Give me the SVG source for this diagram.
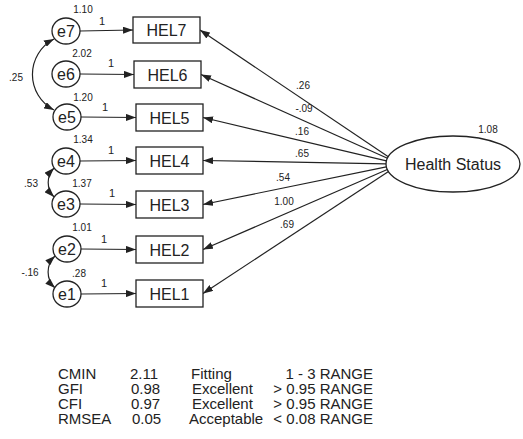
<svg xmlns="http://www.w3.org/2000/svg" width="523" height="439" viewBox="0 0 523 439">
<style>
text{font-family:"Liberation Sans",Arial,sans-serif;fill:#222}
.box{fill:#fff;stroke:#222;stroke-width:1.3}
.lbl{font-size:16px;text-anchor:middle}
.sm{font-size:10px;text-anchor:middle}
.one{font-size:11px;text-anchor:middle}
.tb{font-size:15px}
.ln{fill:none;stroke:#222;stroke-width:1.2}
</style>
<defs>
<marker id="ah" markerUnits="userSpaceOnUse" markerWidth="10" markerHeight="7" refX="10" refY="3.5" orient="auto-start-reverse">
<path d="M0,0 L10,3.5 L0,7 z" fill="#222"/>
</marker>
</defs>
<rect width="523" height="439" fill="#fff"/>
<g id="connectors">
<line class="ln" x1="80" y1="31" x2="133" y2="30" marker-end="url(#ah)"/>
<line class="ln" x1="80" y1="74" x2="134" y2="74.5" marker-end="url(#ah)"/>
<line class="ln" x1="81" y1="117" x2="136" y2="117.5" marker-end="url(#ah)"/>
<line class="ln" x1="80" y1="161" x2="136" y2="160.5" marker-end="url(#ah)"/>
<line class="ln" x1="80" y1="204" x2="136" y2="204.5" marker-end="url(#ah)"/>
<line class="ln" x1="81" y1="249" x2="136" y2="249.5" marker-end="url(#ah)"/>
<line class="ln" x1="81" y1="294" x2="136" y2="293.5" marker-end="url(#ah)"/>
<line class="ln" x1="388.3" y1="156.8" x2="200" y2="30" marker-end="url(#ah)"/>
<line class="ln" x1="387.4" y1="158.3" x2="201" y2="74.5" marker-end="url(#ah)"/>
<line class="ln" x1="386.4" y1="160.8" x2="203" y2="117.5" marker-end="url(#ah)"/>
<line class="ln" x1="386" y1="163.8" x2="203" y2="160.5" marker-end="url(#ah)"/>
<line class="ln" x1="386.3" y1="166.8" x2="203" y2="204.5" marker-end="url(#ah)"/>
<line class="ln" x1="387.3" y1="169.5" x2="203" y2="249.5" marker-end="url(#ah)"/>
<line class="ln" x1="388.5" y1="171.5" x2="203" y2="293.5" marker-end="url(#ah)"/>
<path class="ln" d="M54,39 A40,40 0 0 0 54,110" marker-start="url(#ah)" marker-end="url(#ah)"/>
<path class="ln" d="M54,168 A21,21 0 0 0 54,197" marker-start="url(#ah)" marker-end="url(#ah)"/>
<path class="ln" d="M55,256 A22,22 0 0 0 55,288" marker-start="url(#ah)" marker-end="url(#ah)"/>
<text class="sm" x="16" y="80.5">.25</text>
<text class="sm" x="31" y="186.5">.53</text>
<text class="sm" x="30" y="275.5">-.16</text>
<text class="one" x="102" y="25">1</text>
<text class="one" x="111" y="67">1</text>
<text class="one" x="105" y="111">1</text>
<text class="one" x="111" y="154">1</text>
<text class="one" x="112" y="197">1</text>
<text class="one" x="104" y="243">1</text>
<text class="one" x="104" y="287">1</text>
<text class="sm" x="303" y="88.5">.26</text>
<text class="sm" x="304" y="111.5">-.09</text>
<text class="sm" x="302" y="134.5">.16</text>
<text class="sm" x="302" y="156.5">.65</text>
<text class="sm" x="283" y="180.5">.54</text>
<text class="sm" x="284" y="204.5">1.00</text>
<text class="sm" x="287" y="227.5">.69</text>
</g>
<g id="e7"><ellipse class="box" cx="66" cy="31" rx="14" ry="13"/><text class="lbl" x="66" y="37">e7</text><text class="sm" x="83" y="12.5">1.10</text></g>
<g id="e6"><ellipse class="box" cx="66" cy="74" rx="14" ry="13"/><text class="lbl" x="66" y="80">e6</text><text class="sm" x="82" y="56.5">2.02</text></g>
<g id="e5"><ellipse class="box" cx="67" cy="117" rx="14" ry="13"/><text class="lbl" x="67" y="123">e5</text><text class="sm" x="83" y="100.5">1.20</text></g>
<g id="e4"><ellipse class="box" cx="66" cy="161" rx="14" ry="13"/><text class="lbl" x="66" y="167">e4</text><text class="sm" x="83" y="142.5">1.34</text></g>
<g id="e3"><ellipse class="box" cx="66" cy="204" rx="14" ry="13"/><text class="lbl" x="66" y="210">e3</text><text class="sm" x="82" y="186.5">1.37</text></g>
<g id="e2"><ellipse class="box" cx="67" cy="249" rx="14" ry="13"/><text class="lbl" x="67" y="255">e2</text><text class="sm" x="82" y="230.5">1.01</text></g>
<g id="e1"><ellipse class="box" cx="67" cy="294" rx="14" ry="13"/><text class="lbl" x="67" y="300">e1</text><text class="sm" x="79" y="277">.28</text></g>
<g id="HEL7"><rect class="box" x="133" y="17" width="67" height="26"/><text class="lbl" x="166.5" y="36">HEL7</text></g>
<g id="HEL6"><rect class="box" x="134" y="61" width="67" height="27"/><text class="lbl" x="167.5" y="80.5">HEL6</text></g>
<g id="HEL5"><rect class="box" x="136" y="104" width="67" height="27"/><text class="lbl" x="169.5" y="123.5">HEL5</text></g>
<g id="HEL4"><rect class="box" x="136" y="147" width="67" height="27"/><text class="lbl" x="169.5" y="166.5">HEL4</text></g>
<g id="HEL3"><rect class="box" x="136" y="191" width="67" height="27"/><text class="lbl" x="169.5" y="210.5">HEL3</text></g>
<g id="HEL2"><rect class="box" x="136" y="236" width="67" height="27"/><text class="lbl" x="169.5" y="255.5">HEL2</text></g>
<g id="HEL1"><rect class="box" x="136" y="280" width="67" height="27"/><text class="lbl" x="169.5" y="299.5">HEL1</text></g>
<g id="HealthStatus"><ellipse class="box" cx="453" cy="164" rx="67" ry="28"/><text class="lbl" x="453" y="169.5">Health Status</text><text class="sm" x="488" y="132.5">1.08</text></g>
<g id="fit-table">
<text class="tb" x="58" y="379">CMIN</text><text class="tb" x="130" y="379">2.11</text><text class="tb" x="191" y="379">Fitting</text><text class="tb" x="373" y="379" text-anchor="end">1 - 3 RANGE</text>
<text class="tb" x="58" y="394">GFI</text><text class="tb" x="131" y="394">0.98</text><text class="tb" x="192" y="394">Excellent</text><text class="tb" x="373" y="394" text-anchor="end">&gt; 0.95 RANGE</text>
<text class="tb" x="58" y="409">CFI</text><text class="tb" x="131" y="409">0.97</text><text class="tb" x="192" y="409">Excellent</text><text class="tb" x="373" y="409" text-anchor="end">&gt; 0.95 RANGE</text>
<text class="tb" x="58" y="424">RMSEA</text><text class="tb" x="132" y="424">0.05</text><text class="tb" x="189" y="424">Acceptable</text><text class="tb" x="373" y="424" text-anchor="end">&lt; 0.08 RANGE</text>
</g>
</svg>
